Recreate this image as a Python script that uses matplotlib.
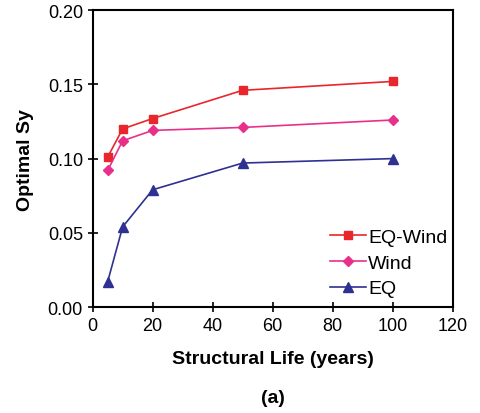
import matplotlib.pyplot as plt

plt.rcParams['font.family'] = ['Liberation Sans', 'DejaVu Sans']

life = [5, 10, 20, 50, 100]
eq_wind = [0.101, 0.120, 0.127, 0.146, 0.152]
wind = [0.092, 0.112, 0.119, 0.121, 0.126]
eq = [0.017, 0.054, 0.079, 0.097, 0.100]

fig = plt.figure(figsize=(4.8, 4.14), dpi=100)
ax = fig.add_axes([0.193, 0.256, 0.75, 0.717])

ax.plot(life, eq_wind, color='#E8262B', marker='s', markersize=6, lw=1.2, label='EQ-Wind')
ax.plot(life, wind, color='#E8308A', marker='D', markersize=5, lw=1.2, label='Wind')
ax.plot(life, eq, color='#2E3192', marker='^', markersize=7, lw=1.2, label='EQ')

ax.set_xlim(0, 120)
ax.set_ylim(0, 0.20)
ax.set_xticks(range(0, 121, 20))
ax.set_yticks([0, 0.05, 0.10, 0.15, 0.20])
ax.set_yticklabels(['0.00', '0.05', '0.10', '0.15', '0.20'])
ax.tick_params(direction='inout', length=7, width=1.2, labelsize=13)
for s in ax.spines.values():
    s.set_linewidth(1.5)

ax.set_xlabel('Structural Life (years)', fontsize=14, fontweight='bold', labelpad=12)
ax.set_ylabel('Optimal Sy', fontsize=14, fontweight='bold', labelpad=10)
fig.text(0.568, 0.027, '(a)', ha='center', fontsize=14, fontweight='bold')

ax.legend(loc='lower right', frameon=False, fontsize=14, handlelength=1.85,
          handletextpad=0.1, labelspacing=0.42, borderaxespad=0,
          bbox_to_anchor=(1.007, 0.006))

fig.savefig('out.png', dpi=100)
